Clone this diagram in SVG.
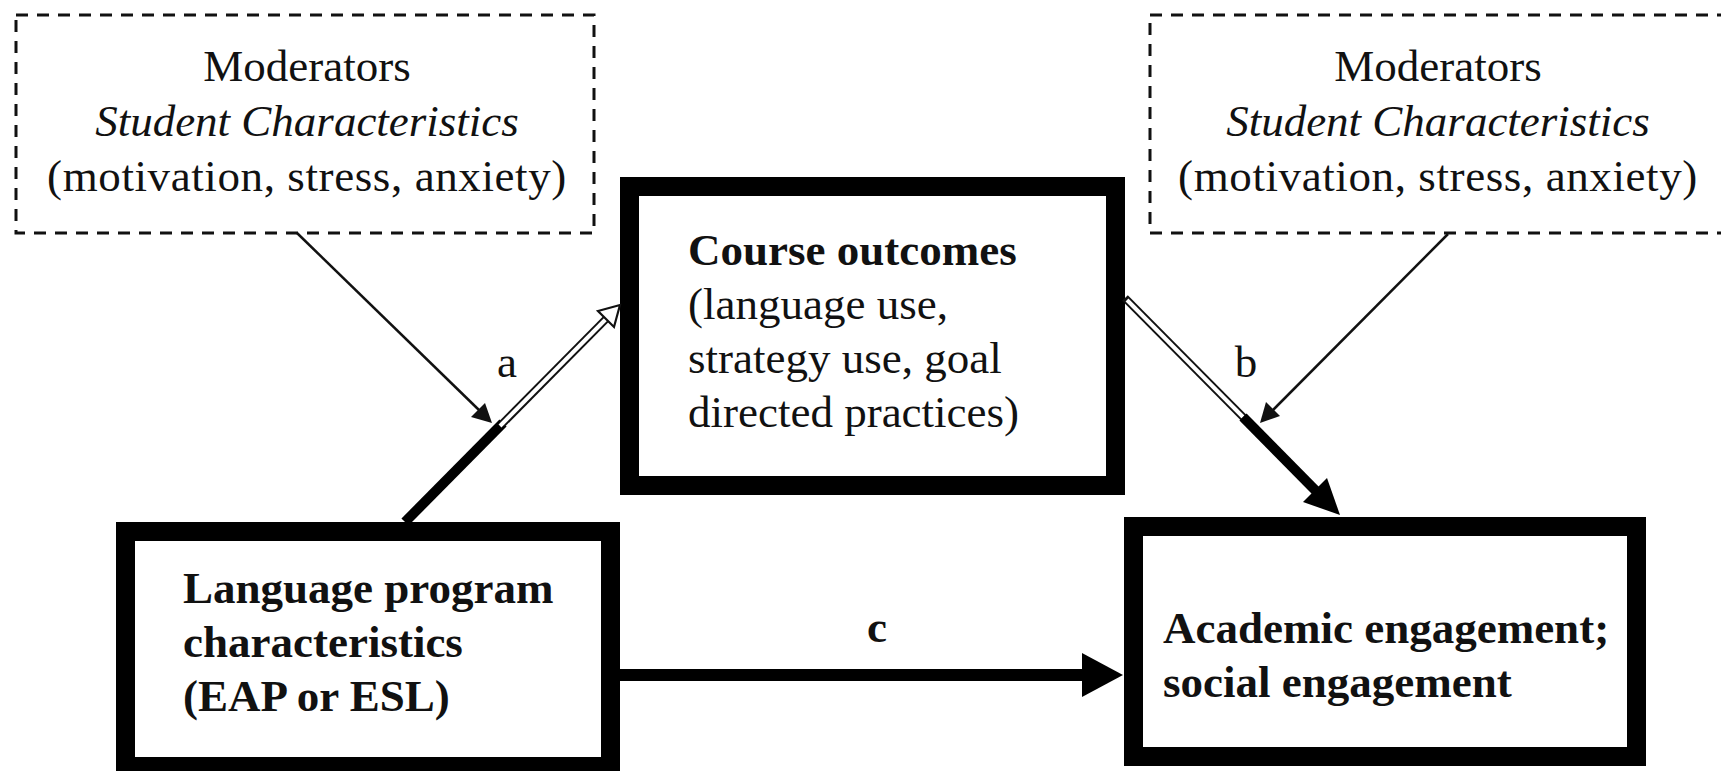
<svg xmlns="http://www.w3.org/2000/svg" width="1721" height="771" viewBox="0 0 1721 771">
<style>
text{font-family:"Liberation Serif","Times New Roman",serif;font-size:45px;fill:#111}
.b{font-weight:bold}
.i{font-style:italic}
.ls{letter-spacing:0.6px}
.dash{fill:none;stroke:#111;stroke-width:3;stroke-dasharray:12 9}
.box{fill:#fff;stroke:#000;stroke-width:19}
.thin{stroke:#111;stroke-width:2.5;fill:none}
.thick{stroke:#000;stroke-width:10;fill:none}
.dblo{stroke:#111;stroke-width:8;fill:none}
.dbli{stroke:#fff;stroke-width:4;fill:none}
</style>
<rect width="1721" height="771" fill="#fff"/>
<g id="moderators-left">
<rect class="dash" x="16" y="15" width="578" height="218"/>
<text x="307" y="81" text-anchor="middle">Moderators</text>
<text x="307" y="136" text-anchor="middle" class="i">Student Characteristics</text>
<text x="307" y="191" text-anchor="middle" class="ls">(motivation, stress, anxiety)</text>
</g>
<g id="moderators-right">
<rect class="dash" x="1150" y="15" width="590" height="218"/>
<text x="1438" y="81" text-anchor="middle">Moderators</text>
<text x="1438" y="136" text-anchor="middle" class="i">Student Characteristics</text>
<text x="1438" y="191" text-anchor="middle" class="ls">(motivation, stress, anxiety)</text>
</g>
<g id="course-outcomes">
<rect class="box" x="629.5" y="186.5" width="486" height="299"/>
<text x="688" y="265" class="b">Course outcomes</text>
<text x="688" y="319">(language use,</text>
<text x="688" y="373">strategy use, goal</text>
<text x="688" y="427">directed practices)</text>
</g>
<g id="language-program">
<rect class="box" x="125.5" y="531.5" width="485" height="235"/>
<text x="183" y="603" class="b">Language program</text>
<text x="183" y="657" class="b">characteristics</text>
<text x="183" y="711" class="b">(EAP or ESL)</text>
</g>
<g id="academic-engagement">
<rect class="box" x="1133.5" y="526.5" width="503" height="230"/>
<text x="1163" y="643" class="b">Academic engagement;</text>
<text x="1163" y="697" class="b">social engagement</text>
</g>
<g id="connectors">
<!-- path a -->
<line class="thick" x1="405" y1="522" x2="503" y2="423"/>
<line class="dblo" x1="502" y1="424" x2="607" y2="318"/>
<line class="dbli" x1="500" y1="426" x2="607" y2="318"/>
<polygon points="620,305 614,327 598,311" fill="#fff" stroke="#111" stroke-width="2.2" stroke-linejoin="miter"/>
<!-- moderator left -->
<line class="thin" x1="297" y1="233" x2="480" y2="411"/>
<polygon points="492,423 471,417 485,403" fill="#111"/>
<!-- path b -->
<line class="dblo" x1="1125" y1="298" x2="1244" y2="418"/>
<line class="dbli" x1="1127" y1="300" x2="1243" y2="417"/>
<line class="thick" x1="1243" y1="417" x2="1318" y2="493"/>
<polygon points="1340,515 1303,502 1327,478" fill="#000"/>
<!-- moderator right -->
<line class="thin" x1="1448" y1="234" x2="1272" y2="411"/>
<polygon points="1260,423 1266,402 1280,416" fill="#111"/>
<!-- path c -->
<line x1="620" y1="675" x2="1084" y2="675" stroke="#000" stroke-width="12"/>
<polygon points="1123,675 1082,653 1082,697" fill="#000"/>
<text x="877" y="642" text-anchor="middle" class="b">c</text>
<text x="507" y="377" text-anchor="middle">a</text>
<text x="1246" y="377" text-anchor="middle">b</text>
</g>
</svg>
